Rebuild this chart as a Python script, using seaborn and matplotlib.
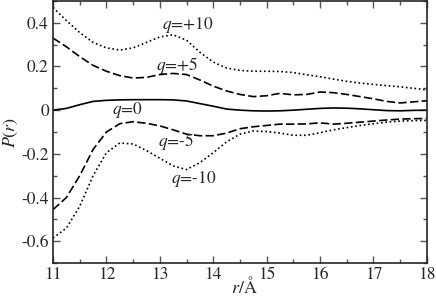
import matplotlib
matplotlib.use("Agg")
import matplotlib.pyplot as plt
from matplotlib.ticker import MultipleLocator, FuncFormatter
import pandas as pd
import seaborn as sns

# r grid (Angstrom) and P(r) curves
r = [11.0, 11.25, 11.5, 11.75, 12.0, 12.25, 12.5, 12.75, 13.0, 13.25,
     13.5, 13.75, 14.0, 14.25, 14.5, 14.75, 15.0, 15.25, 15.5, 15.75,
     16.0, 16.25, 16.5, 16.75, 17.0, 17.25, 17.5, 17.75, 18.0]

p_plus10 = [0.47, 0.41, 0.355, 0.31, 0.285, 0.275, 0.285, 0.31, 0.335, 0.345,
            0.32, 0.265, 0.22, 0.193, 0.182, 0.178, 0.178, 0.177, 0.172, 0.162,
            0.153, 0.142, 0.132, 0.124, 0.118, 0.112, 0.107, 0.1, 0.093]
p_plus5 = [0.33, 0.29, 0.245, 0.205, 0.178, 0.158, 0.147, 0.15, 0.163, 0.168,
           0.163, 0.138, 0.11, 0.088, 0.072, 0.062, 0.066, 0.077, 0.07, 0.072,
           0.083, 0.08, 0.072, 0.062, 0.052, 0.04, 0.033, 0.038, 0.043]
p_zero = [0.0, 0.008, 0.025, 0.04, 0.045, 0.047, 0.048, 0.048, 0.048, 0.047,
          0.042, 0.03, 0.018, 0.005, 0.0, -0.003, -0.004, -0.003, 0.0, 0.004,
          0.008, 0.01, 0.009, 0.006, 0.002, -0.002, -0.003, -0.001, 0.0]
p_minus5 = [-0.455, -0.4, -0.3, -0.18, -0.1, -0.062, -0.053, -0.06, -0.072, -0.09,
            -0.11, -0.117, -0.117, -0.105, -0.085, -0.076, -0.07, -0.064, -0.064, -0.063,
            -0.058, -0.064, -0.06, -0.055, -0.05, -0.045, -0.041, -0.039, -0.038]
p_minus10 = [-0.585, -0.54, -0.44, -0.3, -0.195, -0.15, -0.155, -0.185, -0.22, -0.255,
             -0.272, -0.24, -0.195, -0.145, -0.11, -0.095, -0.098, -0.105, -0.115, -0.115,
             -0.103, -0.09, -0.08, -0.07, -0.062, -0.055, -0.05, -0.048, -0.047]

labels = ["+10", "+5", "0", "-5", "-10"]
label_x = [13.53, 13.33, 12.39, 13.3, 13.63]
label_y = [0.39, 0.205, 0.0, -0.145, -0.315]

sns.set_style("ticks")
plt.rcParams["font.family"] = ["STIXGeneral", "Liberation Serif", "DejaVu Serif"]
plt.rcParams["mathtext.fontset"] = "stix"
plt.rcParams["axes.unicode_minus"] = False

df = pd.DataFrame({"r": r, "+10": p_plus10, "+5": p_plus5, "0": p_zero,
                   "-5": p_minus5, "-10": p_minus10})

fig = plt.figure(figsize=(4.36, 2.99), dpi=100)
ax = fig.add_axes([0.1216, 0.12, 0.8574, 0.877])

dotted = (0, (1, 1.6))
dashed = (0, (5, 2))
styles = {"+10": dotted, "+5": dashed, "0": "-", "-5": dashed, "-10": dotted}
for q in labels:
    sns.lineplot(data=df, x="r", y=q, color="black", linewidth=1.2,
                 linestyle=styles[q], ax=ax)

for q, tx, ty in zip(labels, label_x, label_y):
    ax.text(tx, ty, r"$q$=" + q, fontsize=12.5, ha="center", va="center")

ax.set_xlim(11, 18)
ax.set_ylim(-0.7, 0.5)
ax.xaxis.set_major_locator(MultipleLocator(1))
ax.xaxis.set_minor_locator(MultipleLocator(0.5))
ax.yaxis.set_major_locator(MultipleLocator(0.2))
ax.yaxis.set_minor_locator(MultipleLocator(0.1))
ax.yaxis.set_major_formatter(FuncFormatter(lambda v, p: "0" if abs(v) < 1e-9 else "%.1f" % v))
ax.tick_params(which="both", direction="in", top=True, right=True, labelsize=12.5, pad=3)
ax.tick_params(which="major", length=5, width=1, color="#555555")
ax.tick_params(which="minor", length=3, width=1, color="#555555")
for s in ax.spines.values():
    s.set_linewidth(1.2)

ax.set_xlabel(r"$r$/Å", fontsize=13)
ax.set_ylabel(r"$P(r)$", fontsize=13)
ax.xaxis.set_label_coords(0.513, -0.05)
ax.yaxis.set_label_coords(-0.088, 0.5)

fig.savefig("out.png", dpi=100)
